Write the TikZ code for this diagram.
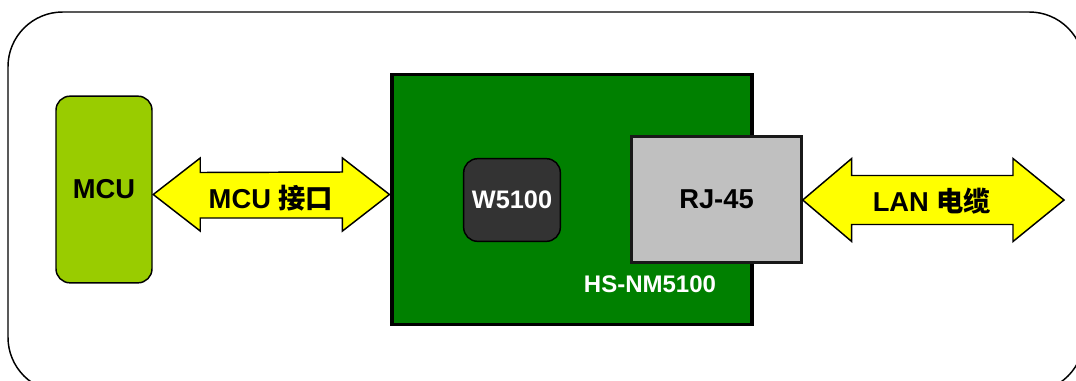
\documentclass[tikz,border=0pt]{standalone}
\usepackage{fontspec}
\setmainfont{Liberation Sans}
\newfontfamily\cjk{Noto Sans CJK SC}
\definecolor{mcugreen}{RGB}{153,204,0}
\definecolor{boardgreen}{RGB}{0,128,0}
\definecolor{chipgray}{RGB}{51,51,51}
\definecolor{rjgray}{RGB}{192,192,192}
\definecolor{busyellow}{RGB}{255,255,0}
\usetikzlibrary{calc}

\begin{document}
\begin{tikzpicture}[x=0.75pt, y=-0.75pt,
  bigfont/.style={font=\fontsize{20.5}{24}\selectfont\bfseries},
  bus/.style={draw=black, fill=busyellow, line width=1.1pt, line join=miter}]

\useasboundingbox (0,0) rectangle (1076,380);
% Outer frame
\begin{scope}
\clip (0,0) rectangle (1076,380);
\draw[line width=1.1pt, rounded corners=41pt] (8,12) rectangle (1084,392);
\end{scope}

% MCU
\node[draw, fill=mcugreen, line width=1.1pt, rounded corners=10.5pt,
      minimum width=72pt, minimum height=140pt, inner sep=0pt, bigfont]
      (mcu) at (104,189.5) {MCU};

% Board
\node[draw, fill=boardgreen, line width=2.3pt,
      minimum width=270pt, minimum height=187pt, inner sep=0pt]
      (board) at (572,199.5) {};
\node[font=\fontsize{18}{21}\selectfont\bfseries, text=white] (boardname) at (650,284) {HS-NM5100};

% Chip
\node[draw=black, fill=chipgray, line width=1.1pt, rounded corners=10.5pt,
      minimum width=72.5pt, minimum height=62pt, inner sep=0pt,
      font=\fontsize{19}{22}\selectfont\bfseries, text=white]
      (chip) at (512,200) {W5100};

% Connector
\node[draw=black!90, fill=rjgray, line width=2.3pt,
      minimum width=127pt, minimum height=94pt, inner sep=0pt, bigfont]
      (rj) at (716.5,199.5) {RJ-45};

% MCU interface
\path (mcu.east) ++(0.5,5) coordinate (busL);
\path (board.west) ++(-1,-5) coordinate (busR);
\draw[bus] (busL) -- ++(47,-36.5) -- ++(0,14.5) -- ($(busR)+(-47,-22.5)$) -- ++(0,-14)
  -- (busR) -- ++(-47,36.5) -- ++(0,-13) -- ($(busL)+(47,23.5)$) -- ++(0,13) -- cycle;
\node[bigfont] (buslabel) at (271,198) {MCU {\cjk 接口}};

% LAN cable
\path (rj.east) ++(0,0.5) coordinate (lanL);
\coordinate (lanR) at (1064,200);
\draw[bus] (lanL) -- ++(49,-41.5) -- ++(0,17) -- ($(lanR)+(-51,-24.5)$) -- ++(0,-17)
  -- (lanR) -- ++(-51,41.5) -- ++(0,-17) -- ($(lanL)+(49,24.5)$) -- ++(0,17) -- cycle;
\node[bigfont] (lanlabel) at (932,201) {LAN {\cjk 电缆}};

\end{tikzpicture}
\end{document}
